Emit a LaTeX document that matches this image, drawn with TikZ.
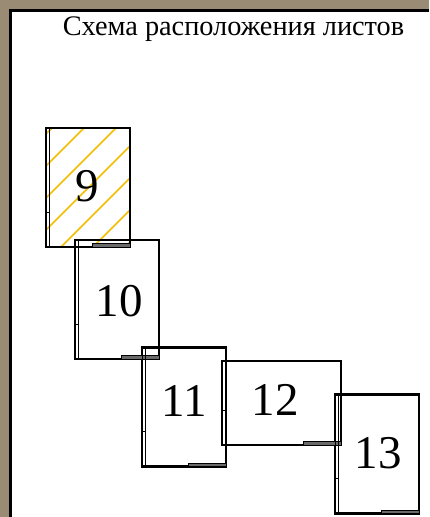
\documentclass[tikz,border=0pt]{standalone}
\usepackage{fontspec}
\setmainfont{Liberation Serif}
\usepackage{tikz}
\usetikzlibrary{calc, backgrounds}
\definecolor{sheetframe}{HTML}{9A8B74}
\definecolor{sheethatch}{HTML}{F5BE00}
\definecolor{sheetstrip}{HTML}{6A6A6A}

\begin{document}
\begin{tikzpicture}[
  x=1pt, y=-1pt,
  sheet/.style={draw, line width=2.6pt, minimum width=84pt, minimum height=119pt, inner sep=0pt, outer sep=0pt},
  wide/.style={sheet, minimum width=119pt, minimum height=84pt},
  num/.style={font=\fontsize{47}{47}\selectfont, inner sep=0pt},
  title/.style={font=\fontsize{28.3}{28.3}\selectfont, inner sep=0pt, anchor=base},
  stripline/.style={draw, line width=0.9pt},
  hatch/.style={sheethatch, line width=1.6pt}
]
\useasboundingbox (0,0) rectangle (429,517);
% page
\begin{scope}[on background layer]
  \fill[sheetframe] (0,0) rectangle (429,517);
  \fill[white] (10.5,10.5) rectangle (429,517);
  \draw[line width=3pt] (10.5,517) -- (10.5,10.5) -- (429,10.5);
\end{scope}

\node[title] (title) at (233.5,35) {Схема расположения листов};

% sheets
\node[sheet] (s9) at (88,187.5) {};
\node[sheet] (s10) at (117,299.5) {};
\node[sheet] (s11) at (184,407) {};
\node[wide] (s12) at (281.5,403) {};
\node[sheet] (s13) at (377,454) {};

\node[num] (n9) at (87.5,186) {9};
\node[num] (n10) at (119,301.5) {10};
\node[num] (n11) at (184,401) {11};
\node[num] (n12) at (275,400) {12};
\node[num] (n13) at (378,453) {13};

% binding and title strips
\foreach \s in {s9,s10,s11,s12,s13}{
  \draw[stripline] (\s.north west) rectangle ($(\s.south west)+(3.5,0)$);
  \draw[stripline] ($(\s.south west)+(0,-35)$) -- ++(3.5,0);
  \draw[stripline, fill=sheetstrip] ($(\s.south east)+(-38,-3.5)$) rectangle (\s.south east);
}

% hatched sheet
\begin{scope}[on background layer]
  \clip (s9.north west) rectangle (s9.south east);
  \foreach \c in {180,212,...,372}
    \draw[hatch] (\c-260,260) -- (\c-100,100);
\end{scope}
\end{tikzpicture}
\end{document}
